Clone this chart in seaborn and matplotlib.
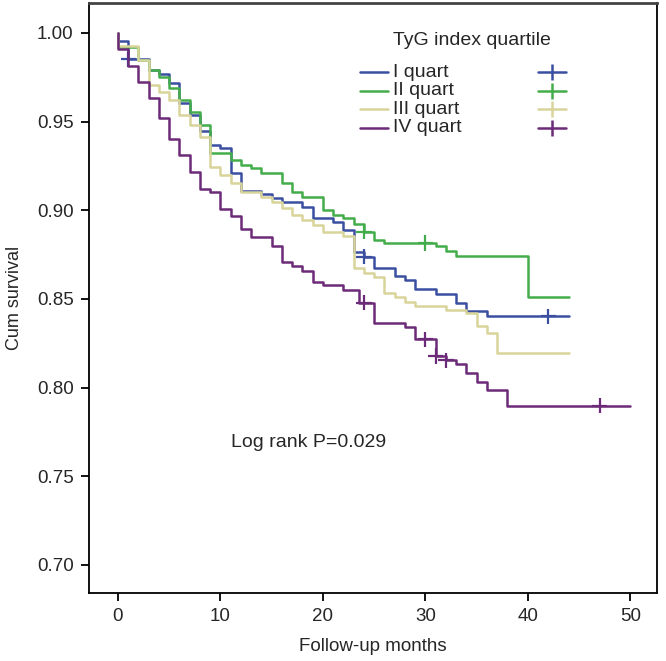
import numpy as np
import pandas as pd
import matplotlib
matplotlib.use("Agg")
import matplotlib.pyplot as plt
import seaborn as sns

groups = ["I quart", "II quart", "III quart", "IV quart"]
colors = ["#3b4fa1", "#44ad4b", "#d9d49a", "#6c2b78"]

# step times (months) and cumulative survival after each step
q1_time = [0, 1, 3, 4, 5, 6, 7, 8, 9, 10, 11, 12, 14, 15, 16, 18, 19, 21, 22, 23,
           24, 25, 27, 28, 29, 31, 33, 34, 36]
q1_surv = [0.9957, 0.9852, 0.9791, 0.9769, 0.9720, 0.9605, 0.9539, 0.9445, 0.9370,
           0.9351, 0.9209, 0.9111, 0.9092, 0.9067, 0.9049, 0.9021, 0.8954, 0.8936,
           0.8889, 0.8767, 0.8738, 0.8673, 0.8630, 0.8607, 0.8554, 0.8530, 0.8480,
           0.8432, 0.8403]
q1_cens = [1, 24, 42]

q2_time = [0, 2, 3, 4, 5, 6, 7, 8, 9, 11, 12, 13, 14, 16, 17, 18, 20, 21, 22, 23,
           24, 25, 26, 31, 32, 33, 40]
q2_surv = [0.9923, 0.9849, 0.9793, 0.9750, 0.9688, 0.9622, 0.9556, 0.9481, 0.9321,
           0.9284, 0.9256, 0.9237, 0.9212, 0.9152, 0.9105, 0.9077, 0.9002, 0.8974,
           0.8954, 0.8920, 0.8879, 0.8833, 0.8815, 0.8796, 0.8773, 0.8743, 0.8513]
q2_cens = [24, 30]

q3_time = [0, 2, 3, 4, 5, 6, 7, 8, 9, 10, 11, 12, 14, 15, 16, 17, 18, 19, 20, 22,
           23, 24, 25, 26, 27, 28, 29, 32, 34, 35, 36, 37]
q3_surv = [0.9926, 0.9849, 0.9707, 0.9669, 0.9622, 0.9538, 0.9480, 0.9415, 0.9246,
           0.9199, 0.9152, 0.9105, 0.9077, 0.9049, 0.9011, 0.8974, 0.8945, 0.8917,
           0.8879, 0.8855, 0.8672, 0.8644, 0.8625, 0.8531, 0.8512, 0.8484, 0.8460,
           0.8437, 0.8418, 0.8347, 0.8310, 0.8195]
q3_cens = []

q4_time = [0, 1, 2, 3, 4, 5, 6, 7, 8, 9, 10, 11, 12, 13, 15, 16, 17, 18, 19, 20,
           22, 23.5, 25, 28, 29, 31, 32, 33, 34, 35, 36, 38]
q4_surv = [0.9908, 0.9814, 0.9726, 0.9632, 0.9519, 0.9400, 0.9312, 0.9218, 0.9118,
           0.9105, 0.9005, 0.8968, 0.8893, 0.8848, 0.8798, 0.8710, 0.8686, 0.8659,
           0.8597, 0.8578, 0.8550, 0.8479, 0.8362, 0.8344, 0.8272, 0.8178, 0.8155,
           0.8136, 0.8084, 0.8033, 0.7986, 0.7898]
q4_cens = [24, 30, 31, 32, 47]

last_followup = [44, 44, 44, 50]


def make_curve(name, times, surv, end):
    t = [0] + list(times) + [end]
    s = [1.0] + list(surv) + [surv[-1]]
    return pd.DataFrame({"group": name, "month": t, "surv": s})


def make_censored(name, times, surv, cens):
    idx = np.searchsorted(times, cens, side="right") - 1
    s = np.asarray(surv)[idx] if len(cens) else []
    return pd.DataFrame({"group": name, "month": cens, "surv": s})


series = [(q1_time, q1_surv, q1_cens), (q2_time, q2_surv, q2_cens),
          (q3_time, q3_surv, q3_cens), (q4_time, q4_surv, q4_cens)]
curves = pd.concat([make_curve(g, t, s, e)
                    for g, (t, s, c), e in zip(groups, series, last_followup)])
cens = pd.concat([make_censored(g, t, s, c) for g, (t, s, c) in zip(groups, series)])

sns.set_style("white")
plt.rcParams["font.family"] = ["Liberation Sans", "DejaVu Sans"]

fig = plt.figure(figsize=(6.66, 6.61), dpi=100)
ax = fig.add_axes([0.1336, 0.1029, 0.8529, 0.8926])

palette = dict(zip(groups, colors))
sns.lineplot(data=curves, x="month", y="surv", hue="group", hue_order=groups,
             palette=palette, estimator=None, sort=False, drawstyle="steps-post",
             linewidth=1.8, legend=False, ax=ax)
sns.scatterplot(data=cens, x="month", y="surv", hue="group", hue_order=groups,
                palette=palette, marker="+", s=120, linewidth=1.6, legend=False, ax=ax)

ax.set_xlim(-2.83, 52.6)
ax.set_ylim(0.6842, 1.0169)
ax.set_xticks(np.arange(0, 51, 10))
ax.set_yticks(np.arange(0.70, 1.001, 0.05))
ax.yaxis.set_major_formatter(matplotlib.ticker.FormatStrFormatter("%.2f"))
ax.tick_params(direction="out", length=6, width=1.3, labelsize=13.5, color="black",
               pad=5, left=True, bottom=True)
for sp in ax.spines.values():
    sp.set_color("black")
    sp.set_linewidth(1.3)
ax.spines["top"].set_linewidth(2.0)
ax.spines["top"].set_color("#444444")

ax.set_xlabel("Follow-up months", fontsize=13.5, labelpad=9)
ax.set_ylabel("Cum survival", fontsize=13, labelpad=10)

ax.text(11, 0.769, "Log rank P=0.029", fontsize=14, va="center", ha="left")

# legend drawn by hand to mimic the SPSS layout
ax.text(0.535, 0.936, "TyG index quartile", transform=ax.transAxes,
        fontsize=14, va="center", ha="left")
for i, (g, c) in enumerate(zip(groups, colors)):
    y = 0.883 - i * 0.0315
    ax.plot([0.477, 0.526], [y, y], color=c, lw=1.8, transform=ax.transAxes)
    ax.text(0.535, y, g, transform=ax.transAxes, fontsize=14, va="center", ha="left")
    ax.plot([0.79, 0.84], [y, y], color=c, lw=1.8, transform=ax.transAxes)
    ax.plot([0.815], [y], color=c, marker="|", ms=11, mew=1.8, transform=ax.transAxes)

fig.savefig("out.png", dpi=100)
